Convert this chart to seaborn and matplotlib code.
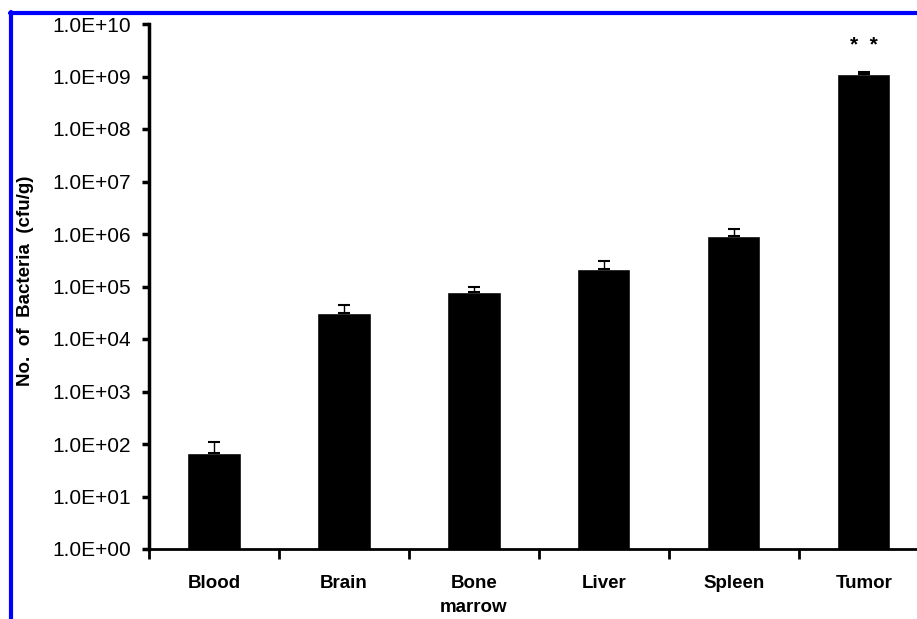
import numpy as np
import pandas as pd
import matplotlib
matplotlib.use("Agg")
import matplotlib.pyplot as plt
from matplotlib.lines import Line2D
from matplotlib.ticker import FixedLocator, FuncFormatter, NullLocator
import seaborn as sns

# Bacterial load per tissue (cfu/g): mean and upper error bound
tissues = ["Blood", "Brain", "Bone\nmarrow", "Liver", "Spleen", "Tumor"]
mean_cfu = [67, 3.1e4, 7.9e4, 2.2e5, 9.1e5, 1.1e9]
upper_err = [43, 1.3e4, 2.1e4, 0.9e5, 3.4e5, 0.1e9]
significance = ["", "", "", "", "", "*  *"]
y_ticks = [10.0 ** k for k in range(0, 11)]

df = pd.DataFrame({"tissue": tissues, "cfu": mean_cfu})

sns.set_theme(style="white")
plt.rcParams["font.family"] = ["Liberation Sans", "DejaVu Sans"]
for key in ("text.color", "axes.labelcolor", "xtick.color", "ytick.color",
            "axes.edgecolor"):
    plt.rcParams[key] = "black"

fig = plt.figure(figsize=(9.17, 6.19), dpi=100)
ax = fig.add_axes([149 / 917, 1 - 549 / 619, 1 - 149 / 917, (549 - 24) / 619])
ax.set_yscale("log")

sns.barplot(data=df, x="tissue", y="cfu", color="black", width=0.41,
            saturation=1, errorbar=None, ax=ax)

x = np.arange(len(tissues))
ax.errorbar(x, mean_cfu, yerr=[np.zeros(len(upper_err)), upper_err],
            fmt="none", ecolor="black", elinewidth=1.0, capsize=4, capthick=1.5)

for xi, lab in zip(x, significance):
    if lab:
        ax.text(xi, 3.9e9, lab, ha="center", va="center", fontsize=15,
                fontweight="bold")

ax.set_ylim(1, 1e10)
ax.set_xlim(-0.5, 5.41)

ax.yaxis.set_major_locator(FixedLocator(y_ticks))
ax.yaxis.set_minor_locator(NullLocator())
ax.yaxis.set_major_formatter(FuncFormatter(lambda v, p: f"{v:.1E}"))
ax.tick_params(axis="y", which="major", direction="out", length=5, width=2.5,
               pad=8, labelsize=15, left=True)

ax.xaxis.set_minor_locator(FixedLocator(np.arange(-0.5, 6, 1.0)))
ax.tick_params(axis="x", which="major", length=0, pad=19, labelsize=13.5)
ax.tick_params(axis="x", which="minor", direction="out", length=7, width=2,
               bottom=True)
for t in ax.get_xticklabels():
    t.set_fontweight("bold")
    t.set_verticalalignment("top")
    t.set_linespacing(1.5)

ax.set_xlabel("")
ax.set_ylabel("No.  of  Bacteria  (cfu/g)", fontsize=13.5, fontweight="bold")
ax.yaxis.set_label_coords((34 - 149) / 768, 0.51)

for side in ("top", "right"):
    ax.spines[side].set_visible(False)
ax.spines["left"].set_linewidth(2.5)
ax.spines["bottom"].set_linewidth(2)

# Blue frame along the top and left edges of the figure
fig.add_artist(Line2D([10 / 917, 1.0], [1 - 13 / 619] * 2, color="#0000ff",
                      linewidth=3, transform=fig.transFigure))
fig.add_artist(Line2D([10.5 / 917] * 2, [0.0, 1 - 12 / 619], color="#0000ff",
                      linewidth=3, transform=fig.transFigure))

fig.savefig("out.png", dpi=100)
